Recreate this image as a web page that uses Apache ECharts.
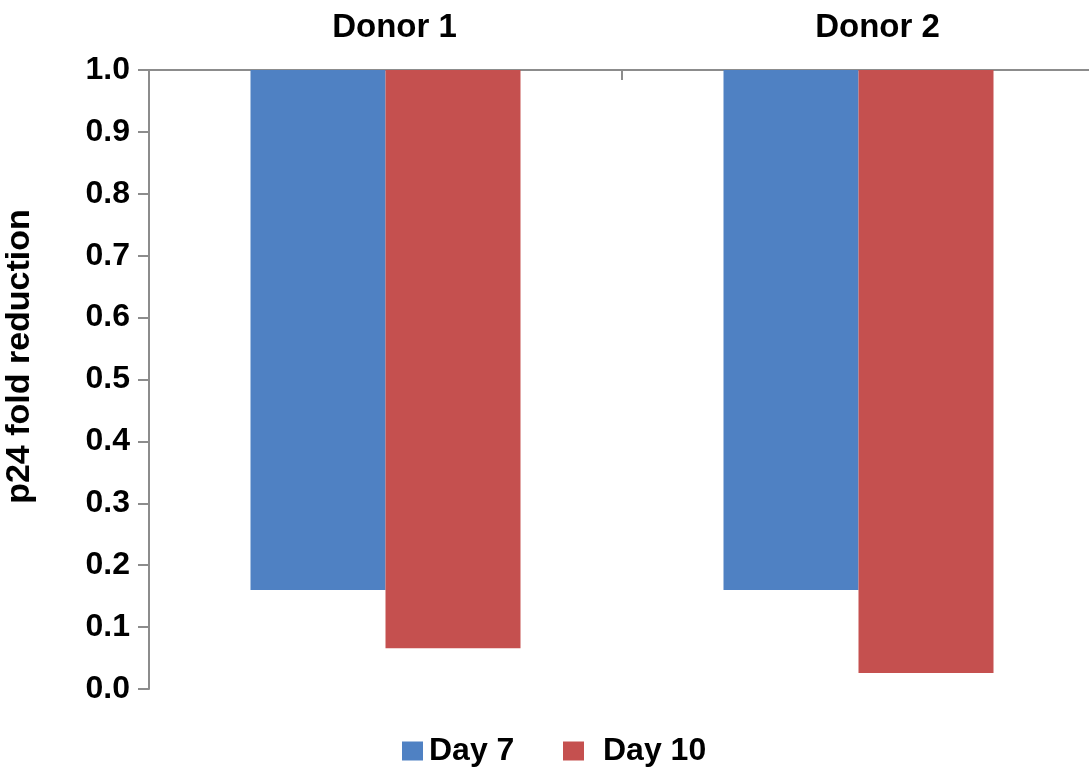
<!DOCTYPE html>
<html>
<head>
<meta charset="utf-8">
<script src="https://cdn.jsdelivr.net/npm/echarts@6/dist/echarts.min.js"></script>
<style>
html,body{margin:0;padding:0;background:#fff;overflow:hidden;}
#chart{width:1089px;height:771px;}
</style>
</head>
<body>
<div id="chart"></div>
<script>
const categories = ['Donor 1', 'Donor 2'];
const day7 = [0.16, 0.16];
const day10 = [0.066, 0.026];
const seriesNames = ['Day 7', 'Day 10'];
const yMin = 0, yMax = 1, yStep = 0.1;

const FONT = '"Liberation Sans", Arial, sans-serif';
const BLUE = '#4F81C3';
const RED = '#C5504F';
const AXIS = '#8c8c8c';

// bars hang from the top of the axis (1.0) down to the value:
// a transparent base up to the value, stacked with the visible part up to 1.0
function hanging(vals) { return vals.map(v => +(yMax - v).toFixed(4)); }

// category labels sit slightly right of the band centres in the reference
const labelShift = [18, 38];
const categoryData = categories.map((c, i) => ({ value: c, textStyle: { padding: [0, 0, 0, labelShift[i]] } }));

const legendText = { fontFamily: FONT, fontWeight: 'bold', fontSize: 32, color: '#000' };

const chart = echarts.init(document.getElementById('chart'));
chart.setOption({
  animation: false,
  backgroundColor: '#fff',
  textStyle: { fontFamily: FONT },
  legend: [
    { data: [seriesNames[0]], top: 735, left: 402, itemWidth: 21, itemHeight: 19, icon: 'rect', padding: 0,
      textStyle: Object.assign({ padding: [0, 0, 0, 1] }, legendText) },
    { data: [seriesNames[1]], top: 735, left: 563, itemWidth: 21, itemHeight: 19, icon: 'rect', padding: 0,
      textStyle: Object.assign({ padding: [0, 0, 0, 14] }, legendText) }
  ],
  grid: { left: 149, top: 70, bottom: 82, right: -6, outerBoundsMode: 'none', containLabel: false },
  xAxis: {
    type: 'category',
    data: categoryData,
    position: 'top',
    axisLine: { onZero: false, lineStyle: { color: AXIS, width: 2 } },
    axisTick: { show: true, inside: true, length: 10, lineStyle: { color: AXIS, width: 2 } },
    axisLabel: { fontFamily: FONT, fontWeight: 'bold', fontSize: 33, color: '#000', margin: 26 },
    splitLine: { show: false }
  },
  yAxis: {
    type: 'value',
    min: yMin, max: yMax, interval: yStep,
    name: 'p24 fold reduction',
    nameLocation: 'middle',
    nameRotate: 90,
    nameGap: 112,
    nameTextStyle: { fontFamily: FONT, fontWeight: 'bold', fontSize: 34, color: '#000', padding: [0, 0, 0, 46] },
    axisLine: { show: true, lineStyle: { color: AXIS, width: 2 } },
    axisTick: { show: true, length: 11, lineStyle: { color: AXIS, width: 2 } },
    axisLabel: { fontFamily: FONT, fontWeight: 'bold', fontSize: 32, color: '#000', margin: 19,
      formatter: v => v.toFixed(1) },
    splitLine: { show: false }
  },
  series: [
    { name: 'base7', type: 'bar', stack: 's7', data: day7, barWidth: 135, barGap: '0%',
      itemStyle: { color: 'rgba(0,0,0,0)' }, silent: true },
    { name: seriesNames[0], type: 'bar', stack: 's7', data: hanging(day7), barWidth: 135, barGap: '0%',
      itemStyle: { color: BLUE } },
    { name: 'base10', type: 'bar', stack: 's10', data: day10, barWidth: 135, barGap: '0%',
      itemStyle: { color: 'rgba(0,0,0,0)' }, silent: true },
    { name: seriesNames[1], type: 'bar', stack: 's10', data: hanging(day10), barWidth: 135, barGap: '0%',
      itemStyle: { color: RED } }
  ]
});
</script>
</body>
</html>
